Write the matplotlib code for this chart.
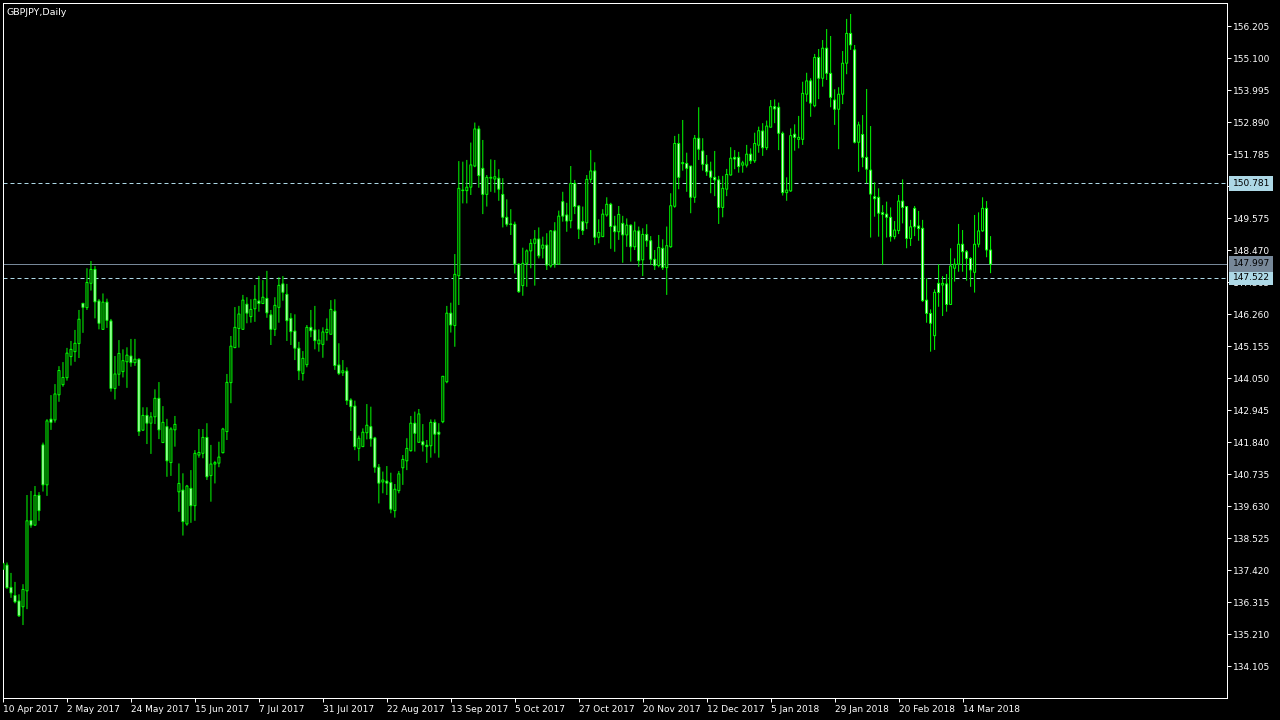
import numpy as np
import matplotlib
matplotlib.use("Agg")
import matplotlib.pyplot as plt
import matplotlib.transforms as mtransforms

symbol_title = "GBPJPY,Daily"

opens = [137.45, 137.60, 136.83, 136.55, 136.36, 136.16, 136.71, 139.14, 138.98, 140.01,
         141.75, 140.37, 142.64, 142.61, 143.48, 143.83, 144.07, 144.80, 144.97, 145.25,
         146.64, 146.49, 147.33, 147.81, 146.72, 145.74, 146.68, 146.03, 143.70, 144.19,
         144.28, 144.62, 144.82, 144.59, 144.71, 142.26, 142.77, 142.50, 142.72, 143.36,
         141.83, 142.38, 141.14, 142.27, 140.13, 140.19, 139.02, 140.25, 139.65, 141.40,
         141.46, 142.01, 140.69, 141.09, 141.12, 141.48, 142.21, 143.90, 145.11, 145.77,
         145.74, 146.61, 146.18, 146.45, 146.72, 146.63, 146.81, 146.24, 145.74, 146.50,
         147.31, 146.95, 146.12, 145.68, 145.09, 144.22, 144.52, 145.81, 145.72, 145.24,
         145.22, 145.63, 145.57, 146.37, 144.51, 144.24, 144.30, 143.30, 143.09, 141.63,
         141.69, 142.17, 142.38, 141.99, 140.98, 140.47, 140.50, 140.45, 139.48, 140.17,
         140.96, 141.20, 141.55, 142.50, 141.84, 141.86, 141.74, 141.72, 142.53, 142.19,
         142.55, 143.93, 146.30, 145.87, 147.59, 150.53, 150.53, 150.65, 151.38, 152.66,
         151.30, 150.40, 150.96, 150.93, 150.96, 150.40, 149.61, 149.38, 149.37, 147.99,
         147.25, 148.02, 148.45, 148.71, 148.86, 148.54, 148.65, 147.93, 149.14, 147.99,
         150.15, 149.69, 149.49, 150.78, 150.00, 149.46, 149.42, 150.92, 151.21, 148.92,
         148.94, 149.69, 150.06, 149.31, 149.11, 149.40, 149.00, 149.34, 148.59, 149.14,
         148.14, 149.02, 148.80, 148.16, 147.94, 148.54, 147.87, 148.59, 149.99, 152.16,
         151.46, 151.47, 151.38, 150.30, 152.34, 151.90, 151.44, 151.21, 150.99, 150.90,
         149.95, 150.58, 151.07, 151.68, 151.68, 151.41, 151.41, 151.79, 151.56, 152.10,
         152.59, 152.01, 152.72, 153.43, 153.41, 152.51, 150.46, 150.52, 152.48, 152.30,
         152.30, 153.86, 154.32, 153.46, 155.13, 154.41, 155.45, 154.58, 153.66, 153.34,
         153.86, 154.93, 155.96, 155.39, 152.20, 152.47, 151.68, 151.24, 150.32, 150.30,
         149.77, 149.72, 149.61, 148.94, 149.15, 150.17, 149.98, 148.88, 149.92, 149.31,
         149.23, 146.75, 146.29, 145.52, 147.33, 147.27, 147.31, 146.60, 147.85, 147.99,
         148.68, 148.42, 148.19, 147.71, 148.68, 149.14, 149.92, 148.48]

highs = [137.72, 137.69, 137.33, 137.02, 136.59, 136.94, 140.02, 140.16, 140.33, 140.12,
         141.83, 142.64, 143.47, 143.85, 144.47, 144.61, 145.10, 145.34, 145.72, 146.41,
         146.65, 147.85, 148.10, 147.93, 146.79, 146.98, 146.80, 146.10, 144.82, 145.37,
         145.05, 145.12, 145.41, 145.41, 144.74, 143.05, 143.05, 142.88, 143.67, 143.92,
         143.09, 142.65, 142.36, 142.75, 141.11, 140.77, 140.37, 140.88, 141.57, 142.30,
         142.30, 142.50, 141.75, 141.20, 141.86, 142.34, 144.20, 145.51, 146.51, 146.55,
         146.93, 146.85, 146.78, 147.27, 147.58, 147.44, 147.76, 146.41, 146.85, 147.54,
         147.58, 147.31, 146.30, 146.26, 145.31, 144.99, 145.89, 146.41, 146.55, 145.74,
         145.81, 146.12, 146.75, 146.78, 145.26, 144.68, 144.43, 143.36, 143.28, 142.07,
         142.32, 143.16, 143.07, 142.03, 141.09, 140.83, 141.02, 140.79, 140.40, 140.85,
         141.40, 141.98, 142.75, 142.90, 142.99, 142.47, 141.92, 142.63, 142.63, 142.50,
         144.13, 146.55, 146.66, 148.34, 151.55, 151.53, 151.59, 152.19, 152.88, 152.77,
         152.28, 151.07, 151.61, 151.59, 151.27, 150.96, 150.23, 149.89, 149.46, 148.02,
         148.56, 148.50, 148.86, 149.17, 149.26, 148.94, 149.06, 149.16, 149.44, 149.84,
         150.49, 150.11, 151.38, 150.90, 150.03, 149.98, 151.07, 151.93, 151.51, 149.54,
         149.89, 150.30, 150.11, 149.66, 150.00, 149.66, 149.57, 149.36, 149.46, 149.29,
         149.23, 149.37, 148.96, 148.48, 149.00, 148.85, 149.29, 150.44, 152.42, 152.49,
         152.97, 151.84, 151.38, 152.45, 153.41, 152.34, 151.76, 151.53, 151.90, 151.04,
         151.04, 151.28, 152.03, 151.93, 151.87, 151.56, 152.11, 151.99, 152.53, 152.74,
         152.86, 152.95, 153.66, 153.68, 153.57, 152.57, 150.99, 152.68, 152.82, 153.11,
         154.29, 154.60, 154.41, 155.25, 155.42, 155.73, 156.11, 155.87, 154.03, 154.10,
         155.35, 156.46, 156.63, 155.56, 152.91, 153.14, 154.04, 152.76, 150.82, 150.61,
         150.03, 150.15, 149.95, 149.48, 150.38, 150.92, 150.00, 149.52, 150.00, 149.83,
         149.52, 147.50, 146.43, 147.12, 147.99, 147.58, 147.65, 148.54, 148.19, 149.38,
         149.17, 148.48, 148.23, 149.69, 149.78, 150.30, 150.17, 148.96]

lows = [137.38, 136.78, 136.47, 136.28, 135.81, 135.53, 136.08, 138.89, 138.95, 139.13,
        140.14, 139.99, 142.27, 142.52, 143.24, 143.76, 143.97, 144.49, 144.62, 144.75,
        145.62, 146.41, 147.08, 146.12, 145.74, 145.72, 145.79, 143.59, 143.32, 143.79,
        144.08, 143.72, 144.45, 144.48, 142.06, 142.23, 141.78, 141.44, 142.47, 141.95,
        141.83, 140.65, 140.68, 141.69, 139.44, 138.62, 138.96, 139.06, 139.13, 141.31,
        141.29, 140.54, 139.79, 140.42, 140.98, 141.46, 141.92, 143.19, 145.09, 145.11,
        145.74, 145.95, 145.97, 146.00, 146.35, 146.63, 146.14, 145.20, 145.51, 145.97,
        146.73, 145.34, 145.20, 144.68, 143.99, 143.97, 144.43, 145.47, 145.05, 144.97,
        144.76, 145.35, 145.57, 144.34, 144.16, 144.13, 143.13, 142.23, 141.57, 141.20,
        141.69, 141.94, 141.69, 140.79, 139.73, 140.08, 140.02, 139.39, 139.24, 140.08,
        140.37, 140.88, 141.52, 141.52, 141.84, 141.52, 141.13, 141.31, 141.46, 141.31,
        142.50, 143.88, 145.63, 145.14, 146.58, 150.09, 150.09, 150.38, 151.34, 150.63,
        149.72, 149.98, 150.49, 150.46, 150.18, 149.26, 149.29, 149.00, 147.67, 147.00,
        146.90, 147.21, 147.85, 147.25, 148.19, 148.19, 147.79, 147.87, 147.87, 147.99,
        149.46, 149.11, 149.23, 149.72, 148.86, 149.00, 149.20, 150.80, 148.65, 148.71,
        148.94, 149.63, 148.52, 148.42, 148.83, 148.04, 148.59, 148.08, 148.48, 147.90,
        147.58, 148.59, 147.96, 147.79, 147.88, 147.79, 146.93, 148.56, 149.94, 150.58,
        151.22, 150.49, 149.75, 150.11, 151.59, 151.22, 151.04, 150.44, 150.34, 149.38,
        149.61, 150.34, 151.05, 151.27, 151.15, 151.15, 151.33, 151.45, 151.49, 151.84,
        151.73, 151.93, 152.72, 152.86, 151.93, 150.36, 150.18, 150.49, 151.91, 151.99,
        152.11, 153.60, 153.08, 153.41, 153.69, 154.12, 154.35, 153.41, 152.80, 151.96,
        153.52, 154.55, 155.39, 152.16, 151.18, 151.34, 150.78, 148.91, 149.63, 148.94,
        147.96, 148.91, 148.77, 148.85, 149.03, 149.40, 148.54, 148.62, 148.96, 148.80,
        146.69, 145.97, 144.97, 145.03, 146.52, 146.20, 146.35, 146.58, 147.39, 147.73,
        147.73, 147.42, 147.21, 147.01, 148.57, 149.11, 148.23, 147.68]

closes = [137.66, 136.82, 136.64, 136.33, 135.85, 136.76, 139.13, 138.98, 140.01, 139.48,
          140.37, 142.58, 142.53, 143.51, 144.32, 144.08, 144.92, 145.05, 145.26, 146.09,
          146.50, 147.36, 147.81, 146.69, 145.95, 146.68, 146.05, 143.70, 144.20, 144.91,
          144.66, 144.85, 144.59, 144.71, 142.21, 142.77, 142.50, 142.72, 143.36, 142.27,
          142.53, 141.20, 142.30, 142.46, 140.42, 139.10, 140.33, 139.65, 141.46, 141.49,
          142.01, 140.65, 141.09, 141.14, 141.33, 142.30, 143.91, 145.16, 145.81, 146.27,
          146.75, 146.30, 146.43, 146.78, 146.63, 146.85, 146.31, 145.74, 146.57, 147.26,
          147.02, 146.04, 145.66, 145.09, 144.31, 144.74, 145.81, 145.69, 145.35, 145.37,
          145.65, 145.74, 146.43, 144.49, 144.22, 144.31, 143.28, 143.07, 141.69, 141.98,
          142.19, 142.43, 141.96, 140.98, 140.43, 140.54, 140.43, 139.53, 140.22, 140.75,
          141.25, 141.63, 142.50, 142.15, 142.82, 141.75, 141.69, 142.53, 142.12, 142.12,
          144.12, 146.30, 145.89, 147.64, 150.61, 150.55, 150.65, 151.42, 152.66, 151.05,
          150.40, 150.99, 150.99, 151.01, 150.58, 149.61, 149.37, 149.36, 147.99, 147.04,
          148.02, 148.45, 148.71, 148.86, 148.28, 148.65, 147.96, 149.14, 147.99, 149.65,
          149.65, 149.48, 150.78, 149.98, 149.20, 149.15, 150.92, 151.21, 148.92, 149.09,
          149.72, 150.06, 149.29, 149.11, 149.71, 149.00, 149.34, 148.59, 149.14, 148.11,
          149.02, 148.80, 148.16, 147.94, 148.57, 147.87, 148.63, 150.01, 152.16, 150.99,
          151.50, 151.30, 150.30, 152.34, 151.96, 151.44, 151.18, 150.99, 150.90, 149.95,
          150.61, 151.09, 151.65, 151.62, 151.36, 151.49, 151.79, 151.56, 152.16, 152.60,
          152.01, 152.76, 153.43, 153.35, 152.51, 150.46, 150.55, 152.43, 152.37, 152.37,
          153.89, 154.32, 153.55, 155.13, 154.41, 155.45, 154.58, 153.75, 153.34, 153.86,
          154.93, 155.96, 155.56, 152.20, 152.80, 151.68, 151.27, 150.41, 150.25, 149.75,
          149.71, 149.61, 148.94, 149.17, 150.17, 149.95, 148.88, 149.28, 149.28, 149.22,
          146.73, 146.29, 145.95, 147.02, 147.01, 147.33, 146.60, 147.93, 147.99, 148.68,
          148.42, 148.19, 147.79, 148.68, 149.14, 149.92, 148.48, 147.99]

price_ticks = [156.205, 155.100, 153.995, 152.890, 151.785, 150.680, 149.575, 148.470,
               147.365, 146.260, 145.155, 144.050, 142.945, 141.840, 140.735, 139.630,
               138.525, 137.420, 136.315, 135.210, 134.105]

date_labels = ["10 Apr 2017", "2 May 2017", "24 May 2017", "15 Jun 2017", "7 Jul 2017",
               "31 Jul 2017", "22 Aug 2017", "13 Sep 2017", "5 Oct 2017", "27 Oct 2017",
               "20 Nov 2017", "12 Dec 2017", "5 Jan 2018", "29 Jan 2018", "20 Feb 2018",
               "14 Mar 2018"]
date_bars = [0, 16, 32, 48, 64, 80, 96, 112, 128, 144, 160, 176, 192, 208, 224, 240]

level_high = 150.781
level_low = 147.522
bid = 147.997

GREEN = "#00FF00"
LEVEL = "#ADD8E6"
BIDCOL = "#778899"
PX = 0.72  # one pixel in points at dpi 100

plt.rcParams["font.family"] = ["DejaVu Sans"]

fig = plt.figure(figsize=(12.8, 7.2), dpi=100, facecolor="black")
ax = fig.add_axes([3 / 1280, 22 / 720, 1224 / 1280, 695 / 720], facecolor="black")

o = np.array(opens)
h = np.array(highs)
l = np.array(lows)
c = np.array(closes)
idx = np.arange(len(o))

# wicks, then bodies on top (black = up candle, white = down candle)
ax.vlines(idx, l, h, color=GREEN, linewidth=PX, snap=False, zorder=2)
lo = np.minimum(o, c)
hgt = np.maximum(np.abs(c - o), 0.004)
faces = np.where(c >= o, "black", "white")
ax.bar(idx, hgt, bottom=lo, width=0.5, color=faces, edgecolor=GREEN,
       linewidth=PX, snap=False, zorder=3)

# levels and bid line
for lv in (level_high, level_low):
    ax.axhline(lv, color=LEVEL, linewidth=PX, linestyle=(0, (4, 3)), zorder=1)
ax.axhline(bid, color=BIDCOL, linewidth=PX, zorder=1)

ax.set_xlim(0.125, 306.125)
ax.set_ylim(133.011, 157.009)

for s in ax.spines.values():
    s.set_color("white")
    s.set_linewidth(PX)

ax.yaxis.tick_right()
ax.set_yticks(price_ticks)
ax.set_yticklabels(["" if t == 150.680 else f"{t:.3f}" for t in price_ticks])
ax.tick_params(axis="y", colors="white", labelsize=6.5, length=3, width=PX, pad=1.5)

ax.set_xticks(date_bars)
ax.set_xticklabels(date_labels, ha="left")
ax.tick_params(axis="x", colors="white", labelsize=6.5, length=3, width=PX, pad=2)

# price labels on the axis
trans = mtransforms.blended_transform_factory(ax.transAxes, ax.transData)
for val, bg in ((level_high, LEVEL), (level_low, LEVEL), (bid, BIDCOL)):
    ax.text(1.0045, val, f"{val:.3f}", transform=trans, fontsize=6.5, color="black",
            ha="left", va="center", clip_on=False, zorder=6,
            bbox=dict(boxstyle="square,pad=0.35", facecolor=bg, edgecolor="none"))

ax.text(0.003, 0.993, symbol_title, transform=ax.transAxes, color="white", fontsize=6.8,
        ha="left", va="top")

fig.savefig("out.png", dpi=100, facecolor="black")
